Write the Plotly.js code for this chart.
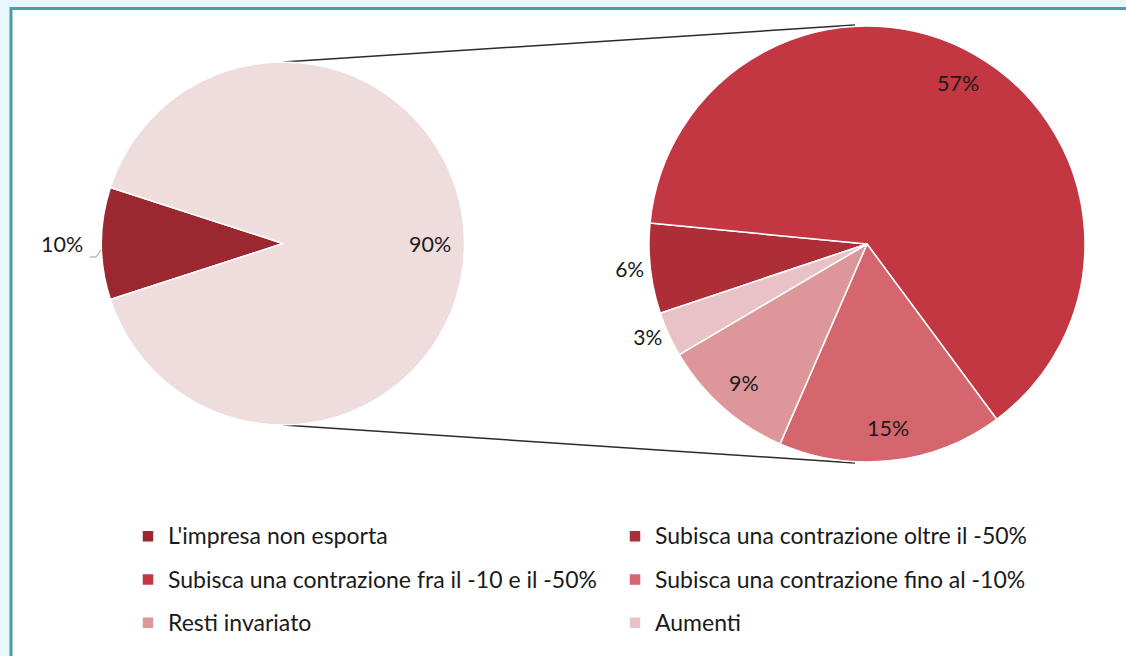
<!DOCTYPE html>
<html><head><meta charset="utf-8">
<script src="https://cdn.plot.ly/plotly-3.0.1.min.js"></script>
<style>html,body{margin:0;padding:0;background:#e6f7fd;} #chart{width:1126px;height:656px;}</style>
</head><body><div id="chart"></div>
<script>
// Left pie: exporting vs non-exporting firms
const mainLabels = ["L'impresa non esporta", "L'impresa esporta"];
const mainValues = [10, 90];
const mainColors = ['#9b2830', '#efdcdc'];

// Right pie: breakdown of the exporting firms (share of total)
const detailLabels = [
  "L'impresa non esporta",
  "Subisca una contrazione oltre il -50%",
  "Subisca una contrazione fra il -10 e il -50%",
  "Subisca una contrazione fino al -10%",
  "Resti invariato",
  "Aumenti"
];
const detailValues = [0, 6, 57, 15, 9, 3];
const detailColors = ['#9b2830', '#ae2e37', '#c23742', '#d5666d', '#dd979a', '#e8c2c4'];

const FONT = 'Lato, "Open Sans", sans-serif';
const W = 1126, H = 656;
const px = v => v / W, py = v => 1 - v / H;

// pie geometry (pixels)
const LEFT = {cx: 283, cy: 243.5, r: 181.5, rot: -108};
const RIGHT = {cx: 867, cy: 244, r: 218, rot: -108.5};

const leftPie = {
  type: 'pie', labels: mainLabels, values: mainValues, sort: false,
  direction: 'clockwise', rotation: LEFT.rot,
  marker: {colors: mainColors, line: {color: '#ffffff', width: 1.5}},
  textinfo: 'none', textposition: 'none',
  domain: {x: [px(LEFT.cx - LEFT.r), px(LEFT.cx + LEFT.r)], y: [py(LEFT.cy + LEFT.r), py(LEFT.cy - LEFT.r)]},
  showlegend: false, hoverinfo: 'label+value'
};

const rightPlacement = ['none', 'outside', 'anno', 'anno', 'anno', 'outside'];
const rightPie = {
  type: 'pie', labels: detailLabels, values: detailValues, sort: false,
  direction: 'clockwise', rotation: RIGHT.rot,
  marker: {colors: detailColors, line: {color: '#ffffff', width: 1.5}},
  texttemplate: rightPlacement.map(p => p === 'outside' ? '%{value}%' : ''),
  textposition: rightPlacement.map(p => p === 'outside' ? 'outside' : 'none'),
  textfont: {family: FONT, size: 21, color: '#1a1a1a'},
  outsidetextfont: {family: FONT, size: 21, color: '#1a1a1a'},
  domain: {x: [px(RIGHT.cx - RIGHT.r), px(RIGHT.cx + RIGHT.r)], y: [py(RIGHT.cy + RIGHT.r), py(RIGHT.cy - RIGHT.r)]},
  showlegend: true, hoverinfo: 'label+value'
};

// data labels placed along each slice's bisector
function sliceLabels(values, geo, frac, which) {
  const total = values.reduce((a, b) => a + b, 0);
  let cum = 0;
  const out = [];
  values.forEach((v, i) => {
    const mid = (geo.rot + 360 * (cum + v / 2) / total) * Math.PI / 180;
    cum += v;
    if (!which[i]) return;
    const f = frac[i];
    const x = geo.cx + geo.r * f * Math.sin(mid);
    const y = geo.cy - geo.r * f * Math.cos(mid);
    out.push({xref: 'paper', yref: 'paper', x: px(x), y: py(y), xanchor: 'center', yanchor: 'middle',
      text: v + '%', showarrow: false, font: {family: FONT, size: 21.5, color: '#1a1a1a'}});
  });
  return out;
}

const annotations = [
  ...sliceLabels(mainValues, LEFT, [1.22, 0.81], [true, true]),
  ...sliceLabels(detailValues, RIGHT, detailValues.map(() => 0.85), rightPlacement.map(p => p === 'anno'))
];

const layout = {
  width: W, height: H,
  margin: {l: 0, r: 0, t: 0, b: 0},
  paper_bgcolor: '#e6f7fd',
  font: {family: FONT, color: '#1a1a1a'},
  showlegend: true,
  annotations: annotations,
  legend: {
    orientation: 'h', x: px(128), xanchor: 'left', y: py(509.5), yanchor: 'top',
    entrywidth: 442, entrywidthmode: 'pixels',
    font: {family: FONT, size: 31, color: '#1a1a1a'},
    bgcolor: 'rgba(0,0,0,0)', traceorder: 'normal'
  },
  shapes: [
    {type: 'rect', xref: 'paper', yref: 'paper', x0: px(11), x1: 1.05, y0: -0.05, y1: py(8.5),
     fillcolor: '#ffffff', line: {color: '#4c9ea6', width: 3}, layer: 'below'},
    {type: 'line', xref: 'paper', yref: 'paper', x0: px(283), y0: py(62), x1: px(855), y1: py(25),
     line: {color: '#2b2b2b', width: 1.5}, layer: 'below'},
    {type: 'line', xref: 'paper', yref: 'paper', x0: px(283), y0: py(425), x1: px(855), y1: py(463),
     line: {color: '#2b2b2b', width: 1.5}, layer: 'below'},
    // small leader line of the 10% label
    {type: 'path', xref: 'paper', yref: 'paper',
     path: `M ${px(90)} ${py(257)} L ${px(96)} ${py(257)} L ${px(101)} ${py(250)}`,
     line: {color: '#9a9a9a', width: 1}}
  ]
};

// wrap legend labels to get taller legend rows with normal-size text
rightPie.labels = detailLabels.map(l => '<span style="font-size:23px;baseline-shift:4px">' + l + '</span>');

Plotly.newPlot('chart', [leftPie, rightPie], layout, {displayModeBar: false, staticPlot: true});
</script>
</body></html>
